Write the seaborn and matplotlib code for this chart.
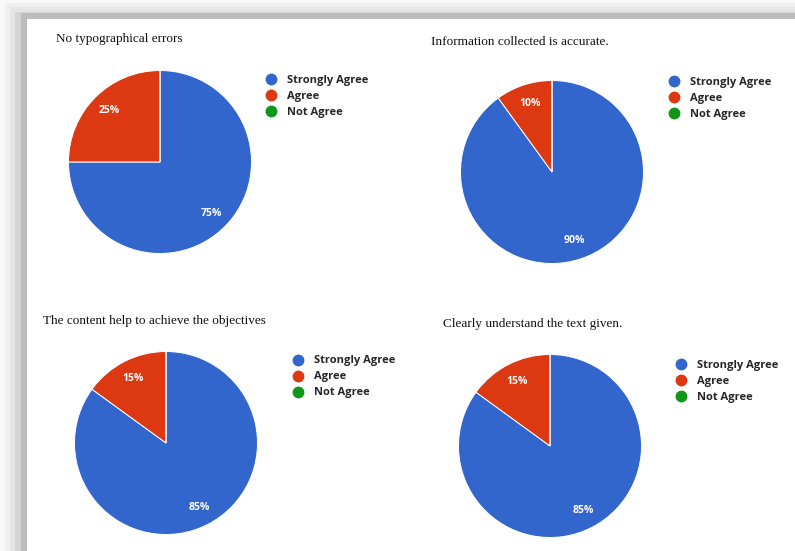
import matplotlib
matplotlib.use("Agg")
import matplotlib.pyplot as plt
from matplotlib.patches import Rectangle
from matplotlib.lines import Line2D
import seaborn as sns

# Survey responses, one pie per question
responses = ["Strongly Agree", "Agree", "Not Agree"]
titles = [
    "No typographical errors",
    "Information collected is accurate.",
    "The content help to achieve the objectives",
    "Clearly understand the text given.",
]
typo_errors = [75, 25, 0]
info_accurate = [90, 10, 0]
content_objectives = [85, 15, 0]
text_understood = [85, 15, 0]
series = [typo_errors, info_accurate, content_objectives, text_understood]

sns.set_theme(style="white")
palette = sns.color_palette(["#3366CC", "#DC3912", "#109618"])

W, H = 795, 551
fig = plt.figure(figsize=(W / 100, H / 100), dpi=100)
fig.patch.set_facecolor("white")


def fx(x):
    return x / W


def fy(y):
    return 1 - y / H


# drop-shadow frame around the page (top and left edges)
frame_steps = [
    ((0, 0), "#f8f8f8"),
    ((5, 3), "#efefef"),
    ((10, 7), "#e5e5e5"),
    ((15, 12), "#d4d4d4"),
    ((21, 13), "#bcbcbc"),
    ((27, 19), "#ffffff"),
]
for (x0, y0), col in frame_steps:
    fig.patches.append(Rectangle((fx(x0), 0), 1 - fx(x0), fy(y0), transform=fig.transFigure,
                                 facecolor=col, edgecolor="none", zorder=-10))

# panel layout in pixels: pie centre, title anchor, legend marker x / middle row y
R = 91.5
pie_centres = [(160, 162), (552, 172), (166, 443), (550, 446)]
title_pos = [(56, 39), (431, 42), (43, 321), (443, 324.5)]
legend_pos = [(271, 96.5), (674, 98.5), (298, 377), (681, 381.5)]


def pct_label(p):
    return f"{p:.0f}%" if p > 0 else ""


handles = [Line2D([], [], marker="o", linestyle="", markersize=7.5,
                  markerfacecolor=c, markeredgecolor=c) for c in palette]

fs_leg = 8.0
fs_px = fs_leg * 100 / 72

for values, title, (cx, cy), (tx, ty), (lx, ly) in zip(series, titles, pie_centres, title_pos, legend_pos):
    ax = fig.add_axes([fx(cx - R), fy(cy + R), 2 * R / W, 2 * R / H])
    ax.pie(values, colors=palette, startangle=90, counterclock=False, radius=1,
           autopct=pct_label, pctdistance=0.79,
           wedgeprops=dict(edgecolor="white", linewidth=0.7),
           textprops=dict(color="white", fontsize=7.5, fontweight="bold", family="Open Sans"))
    ax.set_xlim(-1, 1)
    ax.set_ylim(-1, 1)
    ax.set_aspect("equal")
    ax.axis("off")

    fig.text(fx(tx), fy(ty), title, family="Liberation Serif", fontsize=9.5,
             ha="left", va="center", color="#111111")

    fig.legend(handles, responses, loc="center left",
               bbox_to_anchor=(fx(lx - 0.5 * fs_px), fy(ly)),
               frameon=False, borderpad=0, borderaxespad=0,
               handlelength=1.0, handletextpad=(16 - 0.5 * fs_px) / fs_px,
               labelspacing=0.45,
               prop=dict(family="Open Sans", weight="bold", size=fs_leg))

fig.savefig("out.png", dpi=100)
